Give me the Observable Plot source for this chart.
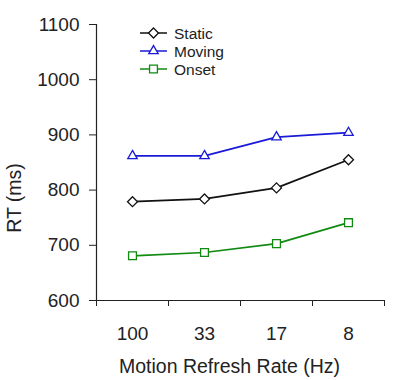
<!DOCTYPE html>
<html>
<head>
<meta charset="utf-8">
<script src="https://cdn.jsdelivr.net/npm/d3@7"></script>
<script src="https://cdn.jsdelivr.net/npm/@observablehq/plot@0.6"></script>
<style>
  html, body { margin: 0; padding: 0; background: #fff; }
  #chart { width: 401px; height: 380px; }
</style>
</head>
<body>
<div id="chart"></div>
<script>
const categories = ["100", "33", "17", "8"];
const staticRT = [779, 784, 804, 855];
const movingRT = [862, 862, 896, 904];
const onsetRT = [681, 687, 703, 741];
const seriesNames = ["Static", "Moving", "Onset"];
const seriesColors = ["#111111", "#1a1ad8", "#118a11"];
const seriesSymbols = ["diamond2", "triangle2", "square2"];
const yTicks = [600, 700, 800, 900, 1000, 1100];
const xTitle = "Motion Refresh Rate (Hz)";
const yTitle = "RT (ms)";

const seriesValues = [staticRT, movingRT, onsetRT];
const rows = [];
seriesNames.forEach((s, k) => {
  categories.forEach((c, i) => rows.push({series: s, k, pos: i + 0.5, cat: c, value: seriesValues[k][i]}));
});

const font = "'Liberation Sans', Arial, sans-serif";
const ink = "#222";

const marks = [
  Plot.ruleX([0], {stroke: ink, strokeWidth: 1.2}),
  Plot.ruleY([600], {stroke: ink, strokeWidth: 1.2}),
  Plot.axisX({ticks: d3.range(categories.length + 1), tickSize: 6, tickFormat: () => "", label: null, stroke: ink}),
  Plot.axisX({ticks: categories.map((c, i) => i + 0.5), tickSize: 0, tickPadding: 26,
              tickFormat: d => categories[Math.floor(d)], fontSize: 19, label: null, fill: ink}),
  Plot.axisY({ticks: yTicks, tickSize: 7, tickPadding: 10, tickFormat: d => String(d), fontSize: 19, label: null, stroke: ink, fill: ink}),
  Plot.text([xTitle], {frameAnchor: "bottom", dy: 66, dx: -11, fontSize: 19.5, fill: ink, lineAnchor: "middle"}),
];
seriesNames.forEach((s, k) => {
  const data = rows.filter(d => d.k === k);
  marks.push(Plot.line(data, {x: "pos", y: "value", stroke: seriesColors[k], strokeWidth: 1.7}));
  marks.push(Plot.dot(data, {x: "pos", y: "value", stroke: seriesColors[k], fill: "white",
                             symbol: seriesSymbols[k], r: k === 2 ? 5 : 4.5, strokeWidth: 1.3}));
});

const plot = Plot.plot({
  width: 401,
  height: 380,
  marginLeft: 96,
  marginRight: 17,
  marginTop: 24,
  marginBottom: 80,
  style: {fontFamily: font, background: "white", color: ink, overflow: "visible"},
  x: {domain: [0, categories.length], axis: null},
  y: {domain: [600, 1100], axis: null},
  marks
});

const svg = d3.select(plot);
// Y axis title
svg.append("text")
  .attr("transform", "translate(14,198) rotate(-90)")
  .attr("text-anchor", "middle")
  .attr("dominant-baseline", "central")
  .attr("font-size", 19.5)
  .attr("font-family", font)
  .attr("fill", ink)
  .text(yTitle);

// Legend
const lg = svg.append("g").attr("transform", "translate(140,33)");
seriesNames.forEach((s, k) => {
  const g = lg.append("g").attr("transform", `translate(0,${k * 18})`);
  g.append("line").attr("x1", 0).attr("x2", 27).attr("y1", 0).attr("y2", 0)
    .attr("stroke", seriesColors[k]).attr("stroke-width", 1.5);
  const sym = {diamond2: d3.symbolDiamond2, triangle2: d3.symbolTriangle2, square2: d3.symbolSquare2}[seriesSymbols[k]];
  const r = k === 2 ? 5 : 4.5;
  g.append("path").attr("transform", "translate(13.5,0)")
    .attr("d", d3.symbol(sym, r * r * Math.PI)())
    .attr("fill", "white").attr("stroke", seriesColors[k]).attr("stroke-width", 1.3);
  g.append("text").attr("x", 34).attr("y", 0)
    .attr("text-anchor", "start")
    .attr("dominant-baseline", "central")
    .attr("font-size", 15.5).attr("font-family", font).attr("fill", ink)
    .text(s);
});

document.getElementById("chart").appendChild(plot);
</script>
</body>
</html>
